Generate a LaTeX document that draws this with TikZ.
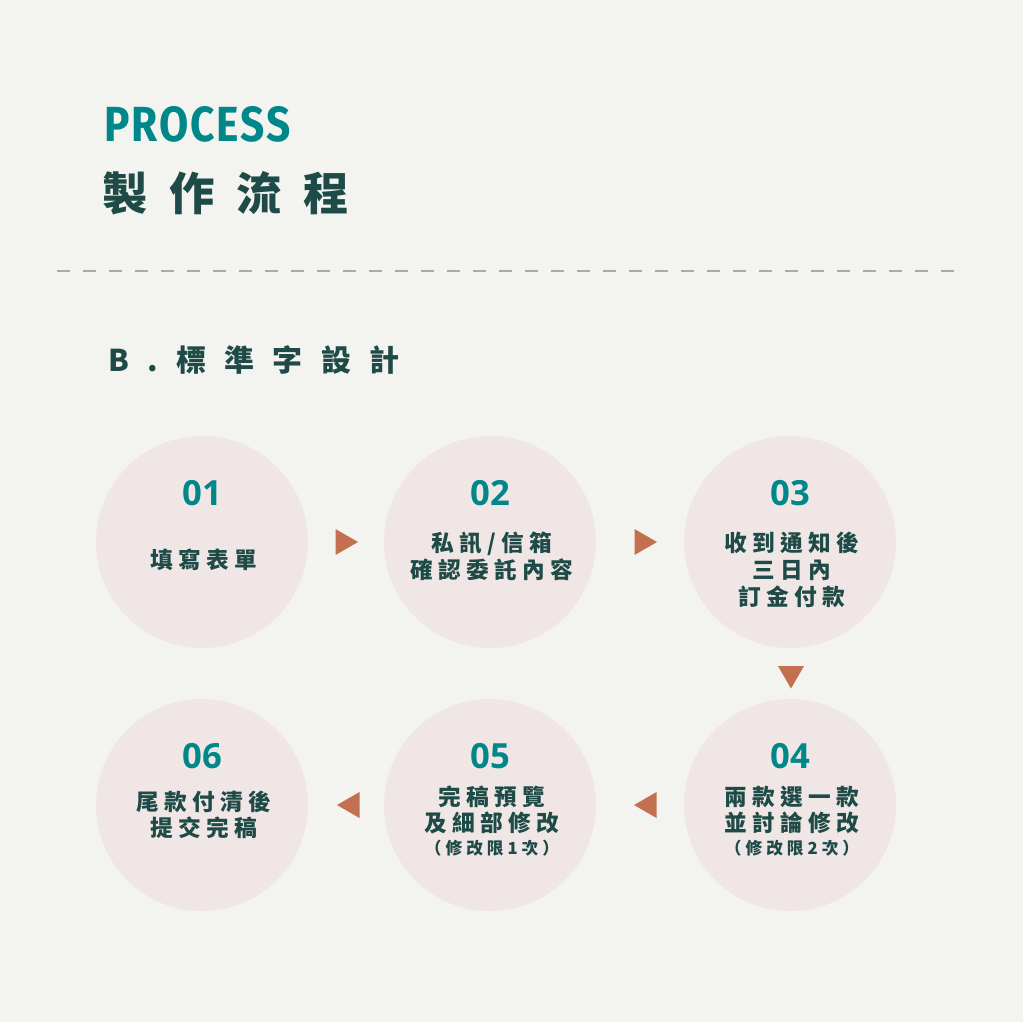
\documentclass[tikz,border=0pt]{standalone}
\usepackage{fontspec}
\usetikzlibrary{calc, shapes.geometric}
\setmainfont{Noto Sans}
\newfontfamily\numfont{Open Sans}
\newfontfamily\headfont{Fira Sans}[FakeStretch=0.86, LetterSpace=4]
\newfontfamily\titlefont{Noto Sans CJK TC}[LetterSpace=48]
\newfontfamily\subfont{Noto Sans CJK TC}[LetterSpace=61]
\newfontfamily\stepfont{Noto Sans CJK TC}[LetterSpace=24]
\newcommand\notesize{\fontsize{12.5}{14}\selectfont}
\definecolor{paper}{HTML}{F3F3EF}
\definecolor{myteal}{HTML}{00878A}
\definecolor{mydark}{HTML}{1E4B47}
\definecolor{stepfill}{HTML}{F0E6E5}
\definecolor{arrowred}{HTML}{C2704F}
\definecolor{dashgray}{HTML}{AAAAAA}

\begin{document}
\begin{tikzpicture}[x=0.75pt, y=-0.75pt]
\tikzset{StepStyle/.style = {fill=stepfill, shape=circle, minimum size=159pt, inner sep=0pt}}
\tikzset{NumStyle/.style = {text=myteal, font=\numfont\bfseries\fontsize{26}{26}\selectfont, inner sep=0pt}}
\tikzset{TextStyle/.style = {text=mydark, font=\stepfont\bfseries\fontsize{17}{20}\selectfont, align=center, inner sep=0pt}}
\tikzset{ArrowStyle/.style = {fill=arrowred, regular polygon, regular polygon sides=3, minimum size=22.5pt, inner sep=0pt}}
\tikzset{DashStyle/.style = {draw=dashgray, line width=0.8pt, dash pattern=on 9.75pt off 9.75pt}}
\fill[paper] (0,0) rectangle (1023,1022);
\useasboundingbox (0,0) rectangle (1023,1022);

% headings
\node[anchor=base west, inner sep=0pt, text=myteal, font=\headfont\bfseries\fontsize{37}{37}\selectfont] (head-en) at (104,141) {PROCESS};
\node[anchor=base west, inner sep=0pt, text=mydark, font=\titlefont\bfseries\fontsize{34}{34}\selectfont] (head-zh) at (102,210) {製作流程};
\coordinate (rule-l) at (57,271);
\coordinate (rule-r) at (960,271);
\draw[DashStyle] (rule-l) -- (rule-r);
\node[anchor=base west, inner sep=0pt, text=mydark, font=\subfont\bfseries\fontsize{22.5}{22.5}\selectfont] (head-sub) at (108,371) {B.標準字設計};

% steps
\foreach \index/\x/\y in {1/202/542, 2/490/542, 3/790/542, 4/790/805, 5/490/805, 6/202/805}
    \node[StepStyle] (step-\index) at (\x,\y) {};
\foreach \index in {1,...,6}
    \node[NumStyle] (num-\index) at ($(step-\index)+(0,-49)$) {0\index};
\node[TextStyle] (text-1) at ($(step-1)+(2,18)$) {填寫表單};
\node[TextStyle] (text-2) at ($(step-2)+(2,14)$) {私訊/信箱\\確認委託內容};
\node[TextStyle] (text-3) at ($(step-3)+(2,28)$) {收到通知後\\三日內\\訂金付款};
\node[TextStyle] (text-4) at ($(step-4)+(2,16)$) {兩款選一款\\並討論修改\\[-3pt]{\notesize（修改限2次）}};
\node[TextStyle] (text-5) at ($(step-5)+(2,16)$) {完稿預覽\\及細部修改\\[-3pt]{\notesize（修改限1次）}};
\node[TextStyle] (text-6) at ($(step-6)+(2,10)$) {尾款付清後\\提交完稿};

% arrows
\node[ArrowStyle, shape border rotate=-90] (arr-1-2) at ($(step-1)!0.5!(step-2)+(-3,0)$) {};
\node[ArrowStyle, shape border rotate=-90] (arr-2-3) at ($(step-2)!0.5!(step-3)+(2,0)$) {};
\node[ArrowStyle, shape border rotate=180] (arr-3-4) at ($(step-3)!0.5!(step-4)+(1,0)$) {};
\node[ArrowStyle, shape border rotate=90] (arr-4-5) at ($(step-4)!0.5!(step-5)+(9,0)$) {};
\node[ArrowStyle, shape border rotate=90] (arr-5-6) at ($(step-5)!0.5!(step-6)+(6,0)$) {};
\end{tikzpicture}
\end{document}
